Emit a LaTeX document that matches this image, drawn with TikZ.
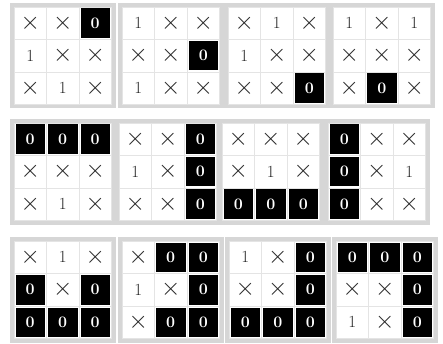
\documentclass[tikz,border=0pt]{standalone}
\usepackage{tikz}
\definecolor{fr}{HTML}{D6D6D6}
\definecolor{cl}{HTML}{E4E4E4}
\tikzset{
  cellline/.style={draw=cl, line width=0.8pt},
  blackcell/.style={fill=black},
  zero/.style={text=white, font=\fontsize{16}{16}\selectfont\bfseries},
  one/.style={text=black!85, font=\fontsize{17}{17}\selectfont},
  cross/.style={text=black!85, font=\fontsize{27}{27}\selectfont},
}
\newcommand\mygrid[4]{% x, y, name, entries
  \begin{scope}[shift={(#1,#2)}]
    \fill[fr] (-4,-4) rectangle (101.5,101.5);
    \fill[white] (0,0) rectangle (97.5,97.5);
    \foreach \v [count=\k from 0] in {#4} {
      \pgfmathtruncatemacro\cc{mod(\k,3)}
      \pgfmathtruncatemacro\rr{div(\k,3)}
      \draw[cellline] (\cc*32.5,\rr*32.5) rectangle ++(32.5,32.5);
      \if\v0
        \fill[blackcell] (\cc*32.5+1.5,\rr*32.5+1.5) rectangle ++(29.5,29.5);
        \node[zero] (#3-\k) at (\cc*32.5+16.25,\rr*32.5+16.25) {0};
      \else\if\v1
        \node[one] (#3-\k) at (\cc*32.5+16.25,\rr*32.5+16.25) {1};
      \else
        \node[cross] (#3-\k) at (\cc*32.5+16.25,\rr*32.5+16.25) {$\times$};
      \fi\fi
    }
  \end{scope}}
\begin{document}
\begin{tikzpicture}[x=1pt,y=-1pt]
\useasboundingbox (0,0) rectangle (443,344);
\fill[white] (0,0) rectangle (443,344);
\mygrid{14}{7}{g1}{X,X,0,1,X,X,X,1,X}
\mygrid{122}{7}{g2}{1,X,X,X,X,0,1,X,X}
\mygrid{228}{7}{g3}{X,1,X,1,X,X,X,X,0}
\mygrid{333}{7}{g4}{1,X,1,X,X,X,X,0,X}
\mygrid{14}{123}{g5}{0,0,0,X,X,X,X,1,X}
\mygrid{119}{123}{g6}{X,X,0,1,X,0,X,X,0}
\mygrid{222}{123}{g7}{X,X,X,X,1,X,0,0,0}
\mygrid{328}{123}{g8}{0,X,X,0,X,1,0,X,X}
\mygrid{14}{241}{g9}{X,1,X,0,X,0,0,0,0}
\mygrid{122}{241}{g10}{X,0,0,1,X,0,X,0,0}
\mygrid{229}{241}{g11}{1,X,0,X,X,0,0,0,0}
\mygrid{336}{241}{g12}{0,0,0,X,X,0,1,X,0}
\end{tikzpicture}
\end{document}
